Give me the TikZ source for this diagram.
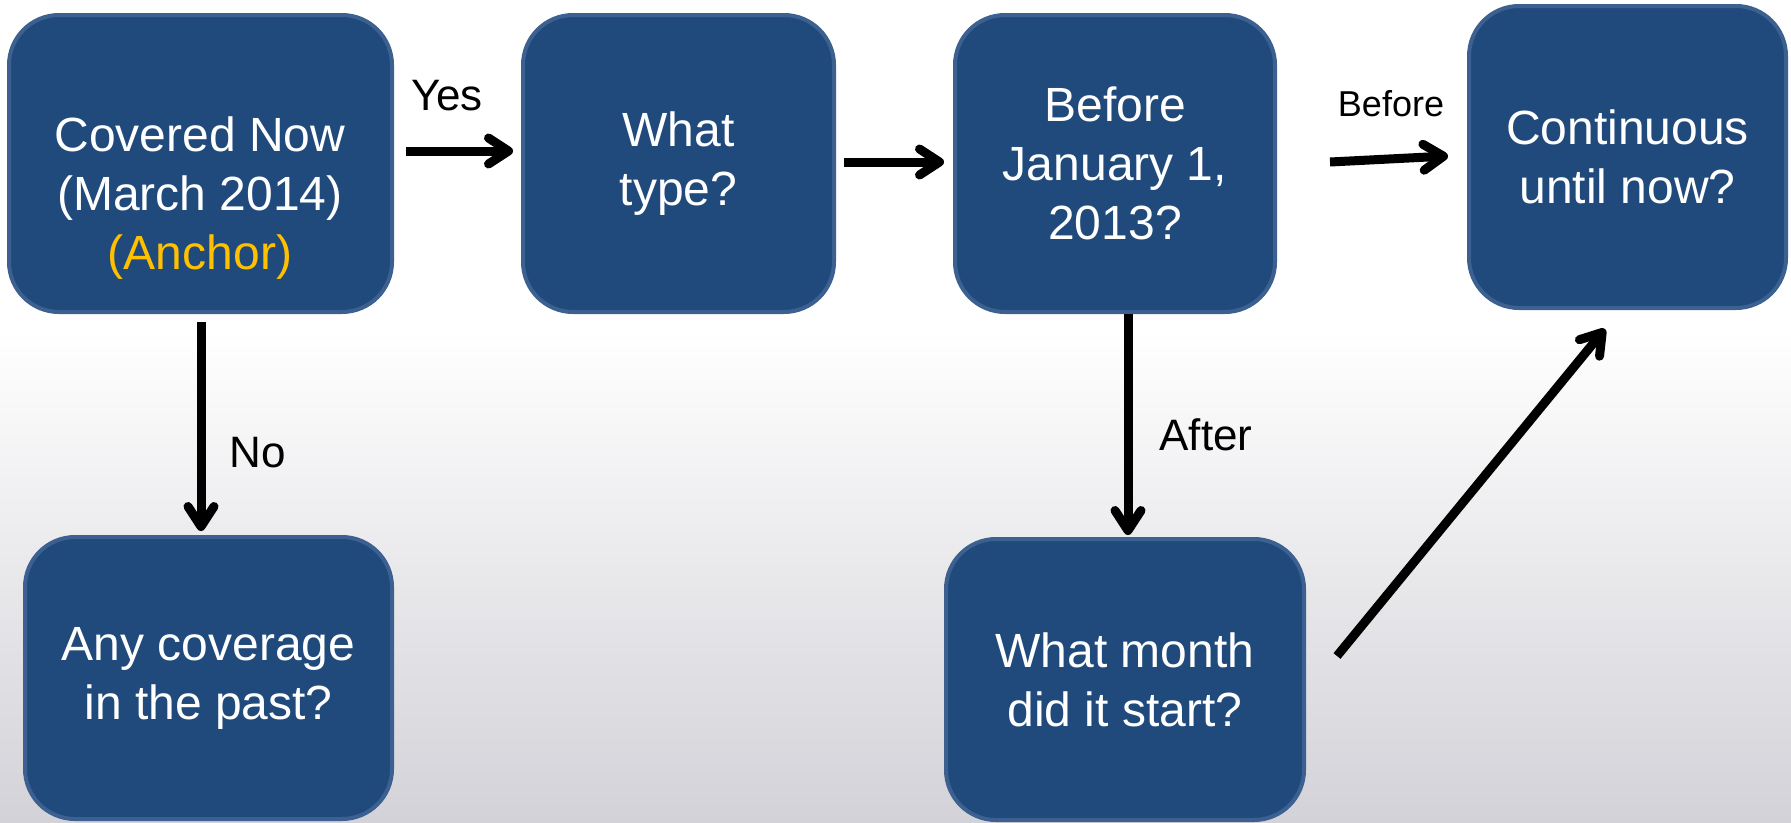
\documentclass[tikz,border=0pt]{standalone}
\usepackage{fontspec}
\setmainfont{Liberation Sans}
\usetikzlibrary{arrows.meta}
\definecolor{boxfill}{RGB}{33,74,124}
\definecolor{boxedge}{RGB}{60,96,144}
\definecolor{anchorc}{RGB}{255,192,0}
\definecolor{bggray}{RGB}{210,210,216}
\tikzset{
  qbox/.style={draw=boxedge, fill=boxfill, line width=4pt, rounded corners=50pt, inner sep=0pt},
  qtext/.style={text=white, align=center, font=\fontsize{48}{59}\selectfont, inner sep=0pt},
  lbl/.style={text=black, font=\fontsize{44}{50}\selectfont, inner sep=0pt},
  conn/.style={line width=9pt, -{Straight Barb[length=20pt,width=26pt,round]}},
}
\begin{document}
\begin{tikzpicture}[x=1pt,y=-1pt]
\useasboundingbox (0,0) rectangle (1791,822);
\fill[white] (0,0) rectangle (1791,822);
\shade[top color=white, bottom color=bggray] (0,330) rectangle (1791,822);

\node[qbox, minimum width=383pt, minimum height=297pt] (b1) at (200.5,163.5) {};
\node[qtext] (t1) at (200,198) {Covered Now\\(March 2014)\\\textcolor{anchorc}{(Anchor)}};
\node[qbox, qtext, minimum width=311pt, minimum height=297pt] (b2) at (678.5,163.5) {What\\type?};
\node[qbox, qtext, minimum width=320pt, minimum height=297pt] (b3) at (1115,163.5) {Before\\January 1,\\2013?};
\node[qbox, qtext, minimum width=317pt, minimum height=302pt] (b4) at (1627.5,157) {Continuous\\until now?};
\node[qbox, qtext, minimum width=367pt, minimum height=282pt] (b5) at (208.5,678) {Any coverage\\in the past?};
\node[qbox, qtext, minimum width=358pt, minimum height=281pt] (b6) at (1125,679.5) {What month\\did it start?};

\draw[conn] ([xshift=12pt,yshift=12.5pt]b1.east) -- ([xshift=-8pt,yshift=12.5pt]b2.west);
\draw[conn] ([xshift=8pt,yshift=1.5pt]b2.east) -- ([xshift=-9pt,yshift=1.5pt]b3.west);
\draw[conn] ([xshift=53pt,yshift=1.5pt]b3.east) -- ([xshift=-19pt,yshift=1pt]b4.west);
\draw[conn] ([xshift=0.5pt,yshift=-8pt]b1.south) -- ([xshift=-7.5pt,yshift=4pt]b5.north);
\draw[conn] ([xshift=13pt]b3.south) -- ([xshift=3pt,yshift=2pt]b6.north);
\draw[conn] ([xshift=31pt,yshift=23.5pt]b6.east) -- ([xshift=-22.5pt,yshift=-19pt]b4.south);

\node[lbl] (lyes) at (447,96) {Yes};
\node[lbl] (lno) at (258,453) {No};
\node[lbl] (lafter) at (1206,435) {After};
\node[lbl, font=\fontsize{36}{42}\selectfont] (lbefore) at (1391,104) {Before};
\end{tikzpicture}
\end{document}
